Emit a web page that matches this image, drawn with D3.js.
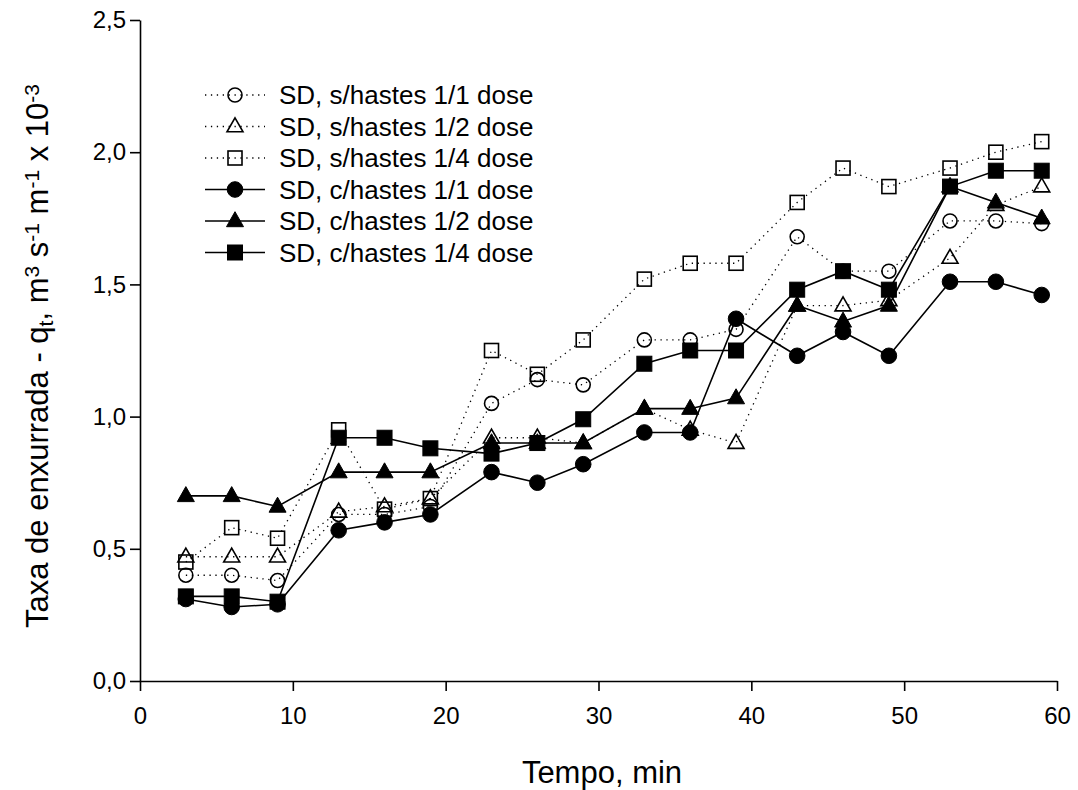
<!DOCTYPE html>
<html>
<head>
<meta charset="utf-8">
<script src="https://cdn.jsdelivr.net/npm/d3@7"></script>
<style>
  html, body { margin: 0; padding: 0; background: #fff; }
  svg text { font-family: 'Liberation Sans', Arial, Helvetica, sans-serif; fill: #000; }
</style>
</head>
<body>
<svg id="chart" width="1078" height="790"></svg>
<script>
// ---- data ----
const time = [3, 6, 9, 13, 16, 19, 23, 26, 29, 33, 36, 39, 43, 46, 49, 53, 56, 59];
const sNoStubble11 = [0.40, 0.40, 0.38, 0.63, 0.63, 0.66, 1.05, 1.14, 1.12, 1.29, 1.29, 1.33, 1.68, 1.55, 1.55, 1.74, 1.74, 1.73];
const sNoStubble12 = [0.47, 0.47, 0.47, 0.64, 0.66, 0.69, 0.92, 0.92, 0.90, 1.03, 0.95, 0.90, 1.42, 1.42, 1.44, 1.60, 1.80, 1.87];
const sNoStubble14 = [0.45, 0.58, 0.54, 0.95, 0.65, 0.69, 1.25, 1.16, 1.29, 1.52, 1.58, 1.58, 1.81, 1.94, 1.87, 1.94, 2.00, 2.04];
const sStubble11   = [0.31, 0.28, 0.29, 0.57, 0.60, 0.63, 0.79, 0.75, 0.82, 0.94, 0.94, 1.37, 1.23, 1.32, 1.23, 1.51, 1.51, 1.46];
const sStubble12   = [0.70, 0.70, 0.66, 0.79, 0.79, 0.79, 0.90, 0.90, 0.90, 1.03, 1.03, 1.07, 1.42, 1.36, 1.42, 1.87, 1.81, 1.75];
const sStubble14   = [0.32, 0.32, 0.30, 0.92, 0.92, 0.88, 0.86, 0.90, 0.99, 1.20, 1.25, 1.25, 1.48, 1.55, 1.48, 1.87, 1.93, 1.93];
const seriesNames = ["SD, s/hastes 1/1 dose", "SD, s/hastes 1/2 dose", "SD, s/hastes 1/4 dose",
                     "SD, c/hastes 1/1 dose", "SD, c/hastes 1/2 dose", "SD, c/hastes 1/4 dose"];
const xTicks = [0, 10, 20, 30, 40, 50, 60];
const yTicks = [0, 0.5, 1.0, 1.5, 2.0, 2.5];

const series = [
  { name: seriesNames[0], values: sNoStubble11, shape: "circle",   filled: false },
  { name: seriesNames[1], values: sNoStubble12, shape: "triangle", filled: false },
  { name: seriesNames[2], values: sNoStubble14, shape: "square",   filled: false },
  { name: seriesNames[3], values: sStubble11,   shape: "circle",   filled: true  },
  { name: seriesNames[4], values: sStubble12,   shape: "triangle", filled: true  },
  { name: seriesNames[5], values: sStubble14,   shape: "square",   filled: true  }
];

const svg = d3.select("#chart");
const x = d3.scaleLinear().domain([0, 60]).range([140, 1057]);
const y = d3.scaleLinear().domain([0, 2.5]).range([681, 20]);
const fmt = d => d3.format(".1f")(d).replace(".", ",");

// ---- axes ----
const gx = svg.append("g").attr("transform", `translate(0,${y(0)})`)
  .call(d3.axisBottom(x).tickValues(xTicks).tickSize(10).tickPadding(16).tickSizeOuter(0));
const gy = svg.append("g").attr("transform", `translate(${x(0)},0)`)
  .call(d3.axisLeft(y).tickValues(yTicks).tickFormat(fmt).tickSize(10).tickPadding(4).tickSizeOuter(0));
[gx, gy].forEach(g => {
  g.select(".domain").attr("stroke", "#000").attr("stroke-width", 1.6);
  g.selectAll(".tick line").attr("stroke", "#000").attr("stroke-width", 1.6);
  g.selectAll(".tick text").style("font-size", "24px").attr("fill", "#000");
});

// ---- symbols ----
function drawSymbol(g, shape, filled, cx, cy) {
  const fill = filled ? "#000" : "none";
  const sw = filled ? 1 : 1.6;
  if (shape === "circle") {
    g.append("circle").attr("cx", cx).attr("cy", cy).attr("r", filled ? 7.8 : 7)
      .attr("fill", fill).attr("stroke", "#000").attr("stroke-width", sw);
  } else if (shape === "square") {
    const s = filled ? 15 : 14;
    g.append("rect").attr("x", cx - s / 2).attr("y", cy - s / 2).attr("width", s).attr("height", s)
      .attr("fill", fill).attr("stroke", "#000").attr("stroke-width", sw);
  } else {
    const w = filled ? 17 : 16, h = filled ? 15 : 14;
    const pts = [[cx, cy - h * 0.62], [cx + w / 2, cy + h * 0.38], [cx - w / 2, cy + h * 0.38]];
    g.append("path").attr("d", "M" + pts.map(p => p.join(",")).join("L") + "Z")
      .attr("fill", fill).attr("stroke", "#000").attr("stroke-width", sw).attr("stroke-linejoin", "miter");
  }
}

const line = d3.line().x((d, i) => x(time[i])).y(d => y(d));

series.forEach(s => {
  const g = svg.append("g");
  g.append("path").datum(s.values).attr("d", line)
    .attr("fill", "none").attr("stroke", "#000")
    .attr("stroke-width", s.filled ? 1.6 : 1.3)
    .attr("stroke-dasharray", s.filled ? null : "1.3,4.6")
    .attr("stroke-linecap", "butt");
  s.values.forEach((v, i) => drawSymbol(g, s.shape, s.filled, x(time[i]), y(v)));
});

// ---- legend ----
const lg = svg.append("g");
series.forEach((s, i) => {
  const cy = 95 + i * 31.5;
  lg.append("line").attr("x1", 205).attr("x2", 265).attr("y1", cy).attr("y2", cy)
    .attr("stroke", "#000").attr("stroke-width", s.filled ? 1.6 : 1.3)
    .attr("stroke-dasharray", s.filled ? null : "1.3,4.6");
  drawSymbol(lg, s.shape, s.filled, 235, cy);
  lg.append("text").attr("x", 279).attr("y", cy).attr("dy", "0.36em")
    .style("font-size", "26px").text(s.name);
});

// ---- axis titles ----
svg.append("text").attr("x", 602).attr("y", 783).attr("text-anchor", "middle")
  .style("font-size", "31px").text("Tempo, min");

const yt = svg.append("text").attr("transform", `translate(48,356) rotate(-90)`)
  .attr("text-anchor", "middle").style("font-size", "31px");
const parts = [
  ["Taxa de enxurrada - q", null], ["t", "sub"], [", m", null], ["3", "sup"],
  [" s", null], ["-1", "sup"], [" m", null], ["-1", "sup"], [" x 10", null], ["-3", "sup"]
];
parts.forEach(([t, k]) => {
  const ts = yt.append("tspan").text(t);
  if (k === "sub") ts.attr("baseline-shift", "-25%").style("font-size", "21px");
  if (k === "sup") ts.attr("baseline-shift", "45%").style("font-size", "21px");
});
</script>
</body>
</html>
